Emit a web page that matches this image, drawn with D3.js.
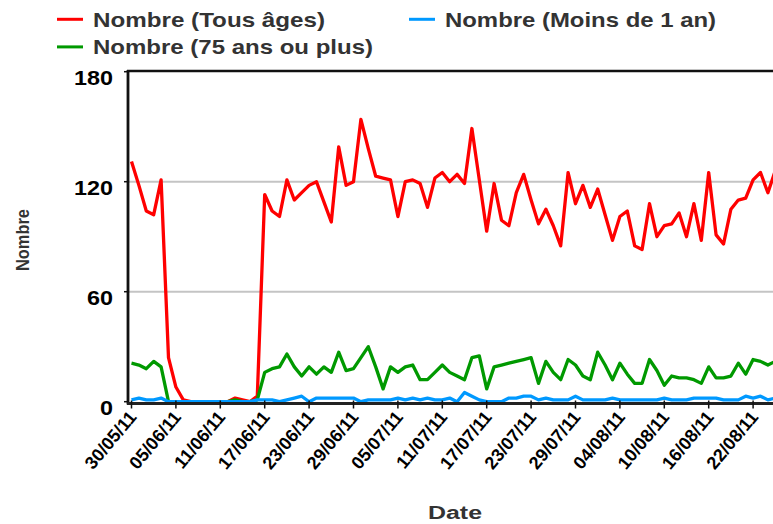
<!DOCTYPE html>
<html>
<head>
<meta charset="utf-8">
<script src="https://cdn.jsdelivr.net/npm/d3@7/dist/d3.min.js"></script>
<style>
  html, body { margin: 0; padding: 0; background: #fff; }
  svg { display: block; }
  text { font-family: "Liberation Sans", Arial, Helvetica, sans-serif; }
</style>
</head>
<body>
<svg id="chart" width="773" height="524"></svg>
<script>
// ---- Data ----
const startDate = "30/05/11";
const endDate = "25/08/11";
const tickLabels = ["30/05/11","05/06/11","11/06/11","17/06/11","23/06/11","29/06/11","05/07/11",
  "11/07/11","17/07/11","23/07/11","29/07/11","04/08/11","10/08/11","16/08/11","22/08/11"];
const yTicks = [0, 60, 120, 180];

const tousAges = [131,118,104,102,121,24,8,1,0,0,
  0,0,0,0,2,1,0,3,113,104,
  101,121,110,114,118,120,109,98,139,118,
  120,154,138,123,122,121,101,120,121,119,
  106,122,125,120,124,119,149,121,93,119,
  99,96,114,124,110,97,105,96,85,125,
  108,118,106,116,102,88,101,104,85,83,
  108,90,96,97,103,90,108,88,125,91,
  86,105,110,111,121,125,114,126];

const plus75 = [21,20,18,22,19,0,0,0,0,0,
  0,0,0,0,1,0,0,1,16,18,
  19,26,19,14,19,15,19,16,27,17,
  18,24,30,19,7,19,16,19,20,12,
  12,16,20,16,14,12,24,25,7,19,
  20,21,22,23,24,10,22,16,12,23,
  20,14,12,27,20,12,21,15,10,10,
  23,17,9,14,13,13,12,10,19,13,
  13,14,21,15,23,22,20,22];

const moins1 = [1,2,1,1,2,0,0,0,0,0,
  0,0,0,0,0,0,0,1,1,1,
  0,1,2,3,0,2,2,2,2,2,
  2,0,1,1,1,1,2,1,2,1,
  2,1,1,2,0,5,3,1,0,0,
  0,2,2,3,3,1,2,1,1,1,
  3,1,1,1,1,2,1,1,1,1,
  1,1,2,1,1,1,2,2,2,2,
  1,1,1,3,2,3,1,2];

const seriesNames = ["Nombre (Tous âges)", "Nombre (Moins de 1 an)", "Nombre (75 ans ou plus)"];
const seriesColors = ["#ff0000", "#0099ff", "#009900"];

// ---- Setup ----
const parse = d3.timeParse("%d/%m/%y");
const dates = d3.timeDay.range(parse(startDate), d3.timeDay.offset(parse(endDate), 1));

const svg = d3.select("#chart");
const plotLeft = 128, plotTop = 71, plotBottom = 403.5, plotRight = 790;

const x = d3.scaleTime()
  .domain([parse(startDate), parse(endDate)])
  .range([131.5, 131.5 + 7.4 * (dates.length - 1)]);
const y = d3.scaleLinear().domain([0, 180]).range([401.7, 71.7]);

// gridlines
svg.append("g").selectAll("line").data(yTicks.filter(v => v > 0 && v < 180)).join("line")
  .attr("x1", plotLeft).attr("x2", plotRight)
  .attr("y1", d => y(d)).attr("y2", d => y(d))
  .attr("stroke", "#c4c4c4").attr("stroke-width", 2);

// top border
svg.append("line").attr("x1", plotLeft - 1).attr("x2", plotRight)
  .attr("y1", plotTop).attr("y2", plotTop)
  .attr("stroke", "#111").attr("stroke-width", 2.5);

// lines
const line = d3.line().x((d, i) => x(dates[i])).y(d => y(d));
const seriesData = [tousAges, plus75, moins1];
const seriesCol = ["#ff0000", "#009900", "#0099ff"];
seriesData.forEach((s, k) => {
  svg.append("path").datum(s)
    .attr("d", line)
    .attr("fill", "none")
    .attr("stroke", seriesCol[k])
    .attr("stroke-width", 3.3)
    .attr("stroke-linejoin", "round");
});

// axes lines
svg.append("line").attr("x1", plotLeft).attr("x2", plotLeft)
  .attr("y1", plotTop - 1).attr("y2", plotBottom + 1)
  .attr("stroke", "#111").attr("stroke-width", 2.8);
svg.append("line").attr("x1", plotLeft - 1).attr("x2", plotRight)
  .attr("y1", plotBottom).attr("y2", plotBottom)
  .attr("stroke", "#222").attr("stroke-width", 2.8);

// x ticks
const xt = svg.append("g");
tickLabels.forEach(t => {
  const px = x(parse(t));
  xt.append("line").attr("x1", px).attr("x2", px)
    .attr("y1", plotBottom - 3).attr("y2", plotBottom + 5)
    .attr("stroke", "#111").attr("stroke-width", 1.5);
  xt.append("text")
    .attr("transform", `translate(${px + 6},${plotBottom + 14}) rotate(-50)`)
    .attr("text-anchor", "end")
    .attr("font-size", 18).attr("font-weight", "bold").attr("fill", "#000")
    .text(t);
});

// y tick labels
yTicks.forEach(v => {
  svg.append("text")
    .attr("x", 113).attr("y", y(v) + 13)
    .attr("text-anchor", "end")
    .attr("font-size", 20).attr("font-weight", "bold").attr("fill", "#000")
    .attr("textLength", 13 * String(v).length).attr("lengthAdjust", "spacingAndGlyphs")
    .text(v);
  svg.append("line").attr("x1", plotLeft - 4).attr("x2", plotLeft)
    .attr("y1", y(v)).attr("y2", y(v)).attr("stroke", "#111").attr("stroke-width", 1.5);
});

// axis titles
svg.append("text")
  .attr("transform", "translate(29,240) rotate(-90)")
  .attr("text-anchor", "middle")
  .attr("font-size", 19).attr("font-weight", "bold").attr("fill", "#333")
  .attr("textLength", 62).attr("lengthAdjust", "spacingAndGlyphs")
  .text("Nombre");
svg.append("text")
  .attr("x", 428).attr("y", 519)
  .attr("font-size", 18).attr("font-weight", "bold").attr("fill", "#333")
  .attr("textLength", 54).attr("lengthAdjust", "spacingAndGlyphs")
  .text("Date");

// legend
const legendItems = [
  {name: seriesNames[0], color: seriesColors[0], lx: 57, ty: 26.7, len: 232},
  {name: seriesNames[1], color: seriesColors[1], lx: 409, ty: 26.7, len: 271},
  {name: seriesNames[2], color: seriesColors[2], lx: 57, ty: 54.3, len: 280}
];
legendItems.forEach(it => {
  svg.append("line").attr("x1", it.lx).attr("x2", it.lx + 26)
    .attr("y1", it.ty - 7.4).attr("y2", it.ty - 7.4)
    .attr("stroke", it.color).attr("stroke-width", 3);
  svg.append("text").attr("x", it.lx + 36).attr("y", it.ty)
    .attr("font-size", 21).attr("font-weight", "bold").attr("fill", "#333")
    .attr("textLength", it.len).attr("lengthAdjust", "spacingAndGlyphs")
    .text(it.name);
});
</script>
</body>
</html>
